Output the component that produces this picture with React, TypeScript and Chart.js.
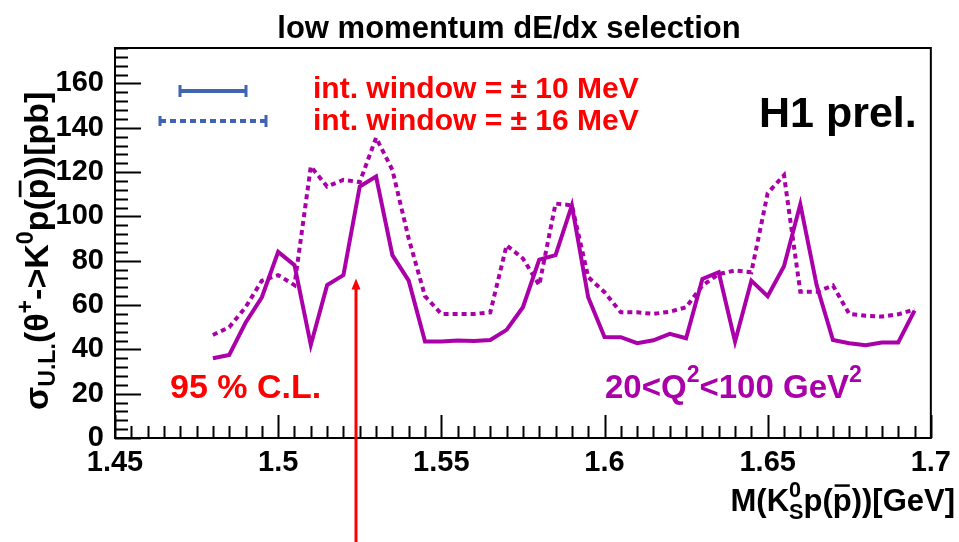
import React, { useEffect, useRef } from "react";
import { Chart, registerables } from "chart.js";

Chart.register(...registerables);

// Invariant mass bin centres [GeV]
const massBins = [
  1.48, 1.485, 1.49, 1.495, 1.5, 1.505, 1.51, 1.515, 1.52, 1.525, 1.53, 1.535,
  1.54, 1.545, 1.55, 1.555, 1.56, 1.565, 1.57, 1.575, 1.58, 1.585, 1.59, 1.595,
  1.6, 1.605, 1.61, 1.615, 1.62, 1.625, 1.63, 1.635, 1.64, 1.645, 1.65, 1.655,
  1.66, 1.665, 1.67, 1.675, 1.68, 1.685, 1.69, 1.695,
];

// 95% C.L. upper limit [pb], integration window +-10 MeV
const upperLimit10MeV = [
  36.0, 37.5, 52.0, 63.5, 84.0, 78.0, 42.0, 69.0, 73.5, 113.5, 118.0, 82.5,
  71.0, 43.5, 43.5, 44.0, 43.8, 44.2, 48.8, 59.0, 80.5, 82.5, 105.0, 63.5,
  45.6, 45.5, 42.8, 44.1, 47.0, 45.0, 71.8, 74.8, 43.5, 71.0, 64.0, 77.5,
  105.5, 69.0, 44.2, 42.8, 41.9, 43.1, 43.1, 57.5,
];

// 95% C.L. upper limit [pb], integration window +-16 MeV
const upperLimit16MeV = [
  46.5, 50.0, 59.0, 71.0, 73.5, 69.0, 122.5, 113.5, 116.5, 115.5, 135.5, 121.0,
  90.0, 64.0, 56.0, 56.0, 56.0, 56.7, 87.0, 81.0, 69.0, 105.8, 105.0, 72.6,
  65.8, 56.7, 56.7, 56.0, 57.0, 59.0, 68.8, 74.0, 75.6, 74.8, 110.5, 118.6,
  66.0, 66.0, 68.8, 56.0, 55.2, 54.8, 55.8, 58.0,
];

const xTickValues = [1.45, 1.5, 1.55, 1.6, 1.65, 1.7];
const xTickLabels = ["1.45", "1.5", "1.55", "1.6", "1.65", "1.7"];
const yTickValues = [0, 20, 40, 60, 80, 100, 120, 140, 160];
const yTickLabels = ["0", "20", "40", "60", "80", "100", "120", "140", "160"];

// Mass marked by the arrow [GeV] and the arrow tip [pb]
const markedMass = 1.524;
const markedTip = 72;

const X_MIN = 1.45;
const X_MAX = 1.7;
const Y_MIN = 0;
const Y_MAX = 176;

const MAGENTA = "#aa00aa";
const BLUE = "#4164b2";
const RED = "#ff0000";
const FAMILY = '"Liberation Sans", Arial, Helvetica, sans-serif';

type Seg = { t: string; s?: number; dy?: number; over?: boolean; stack?: boolean };

const font = (px: number) => `bold ${px}px ${FAMILY}`;

// Draws a run of text pieces with sub/superscripts and overlines.
function drawRich(
  ctx: CanvasRenderingContext2D,
  segs: Seg[],
  x: number,
  y: number,
  size: number,
  color: string,
  align: "left" | "right" | "center" = "left"
) {
  const widths = segs.map((sg) => {
    ctx.font = font(size * (sg.s ?? 1));
    return ctx.measureText(sg.t).width;
  });
  const xs: number[] = [];
  let cx = 0;
  let i = 0;
  while (i < segs.length) {
    if (segs[i].stack && i + 1 < segs.length) {
      xs[i] = cx;
      xs[i + 1] = cx;
      cx += Math.max(widths[i], widths[i + 1]);
      i += 2;
    } else {
      xs[i] = cx;
      cx += widths[i];
      i += 1;
    }
  }
  const x0 = align === "right" ? x - cx : align === "center" ? x - cx / 2 : x;
  ctx.fillStyle = color;
  ctx.textAlign = "left";
  ctx.textBaseline = "alphabetic";
  segs.forEach((sg, k) => {
    const px = size * (sg.s ?? 1);
    ctx.font = font(px);
    const yy = y + (sg.dy ?? 0) * size;
    ctx.fillText(sg.t, x0 + xs[k], yy);
    if (sg.over) {
      ctx.fillRect(x0 + xs[k] + widths[k] * 0.1, yy - px * 0.86, widths[k] * 0.8, Math.max(2, px * 0.08));
    }
  });
}

const framePlugin = {
  id: "rootFrame",
  afterDraw(chart: any) {
    const ctx: CanvasRenderingContext2D = chart.ctx;
    const { left, right, top, bottom } = chart.chartArea;
    const xs = chart.scales.x;
    const ys = chart.scales.y;
    ctx.save();

    // frame
    ctx.strokeStyle = "#000";
    ctx.lineWidth = 2;
    ctx.strokeRect(left, top, right - left, bottom - top);

    // inward ticks on the x axis: major every 0.05, minor every 0.005
    ctx.beginPath();
    for (let k = 0; k <= 50; k++) {
      const v = X_MIN + k * 0.005;
      const px = Math.round(xs.getPixelForValue(v)) + 0.5;
      const len = k % 10 === 0 ? 23 : 12;
      ctx.moveTo(px, bottom);
      ctx.lineTo(px, bottom - len);
    }
    // inward ticks on the y axis: major every 20, minor every 4
    for (let k = 0; k * 4 <= Y_MAX; k++) {
      const v = k * 4;
      const py = Math.round(ys.getPixelForValue(v)) + 0.5;
      const len = k % 5 === 0 ? 26 : 13;
      ctx.moveTo(left, py);
      ctx.lineTo(left + len, py);
    }
    ctx.lineWidth = 2;
    ctx.stroke();

    // title
    ctx.fillStyle = "#000";
    ctx.font = font(31);
    ctx.textAlign = "center";
    ctx.textBaseline = "alphabetic";
    ctx.fillText("low momentum dE/dx selection", 509, 38);

    // y axis title (rotated)
    ctx.save();
    ctx.translate(48, 410);
    ctx.rotate(-Math.PI / 2);
    drawRich(
      ctx,
      [
        { t: "σ" },
        { t: "U.L.", s: 0.68, dy: 0.22 },
        { t: "(θ" },
        { t: "+", s: 0.68, dy: -0.45 },
        { t: "->K" },
        { t: "0", s: 0.68, dy: -0.45 },
        { t: "p(" },
        { t: "p", over: true },
        { t: "))[pb]" },
      ],
      0,
      0,
      34,
      "#000",
      "left"
    );
    ctx.restore();

    // x axis title
    drawRich(
      ctx,
      [
        { t: "M(K" },
        { t: "0", s: 0.7, dy: -0.45, stack: true },
        { t: "S", s: 0.7, dy: 0.25 },
        { t: "p(" },
        { t: "p", over: true },
        { t: "))[GeV]" },
      ],
      955,
      511,
      31,
      "#000",
      "right"
    );

    // legend markers
    ctx.strokeStyle = BLUE;
    ctx.lineWidth = 4;
    ctx.setLineDash([]);
    ctx.beginPath();
    ctx.moveTo(180, 91);
    ctx.lineTo(246, 91);
    ctx.stroke();
    ctx.lineWidth = 3;
    ctx.beginPath();
    ctx.moveTo(180, 85);
    ctx.lineTo(180, 97);
    ctx.moveTo(246, 85);
    ctx.lineTo(246, 97);
    ctx.stroke();

    ctx.lineWidth = 4;
    ctx.beginPath();
    ctx.setLineDash([6, 4]);
    ctx.moveTo(160, 121);
    ctx.lineTo(266, 121);
    ctx.stroke();
    ctx.setLineDash([]);
    ctx.lineWidth = 3;
    ctx.beginPath();
    ctx.moveTo(160, 116);
    ctx.lineTo(160, 126);
    ctx.moveTo(266, 115);
    ctx.lineTo(266, 127);
    ctx.stroke();

    // legend texts
    ctx.fillStyle = RED;
    ctx.font = font(30);
    ctx.textAlign = "left";
    ctx.fillText("int. window = \u00b1 10 MeV", 313, 98);
    ctx.fillText("int. window = \u00b1 16 MeV", 313, 130);

    // labels
    ctx.fillStyle = "#000";
    ctx.font = font(43);
    ctx.fillText("H1 prel.", 759, 127);

    ctx.fillStyle = RED;
    ctx.font = font(34);
    ctx.fillText("95 % C.L.", 170, 398);

    drawRich(
      ctx,
      [
        { t: "20<Q" },
        { t: "2", s: 0.7, dy: -0.48 },
        { t: "<100 GeV" },
        { t: "2", s: 0.7, dy: -0.48 },
      ],
      605,
      398,
      33,
      MAGENTA,
      "left"
    );

    // arrow at the marked mass
    const ax = Math.round(xs.getPixelForValue(markedMass));
    const ay = ys.getPixelForValue(markedTip);
    ctx.strokeStyle = RED;
    ctx.fillStyle = RED;
    ctx.lineWidth = 3;
    ctx.beginPath();
    ctx.moveTo(ax, ay + 8);
    ctx.lineTo(ax, chart.height);
    ctx.stroke();
    ctx.beginPath();
    ctx.moveTo(ax, ay);
    ctx.lineTo(ax - 4.5, ay + 11);
    ctx.lineTo(ax + 4.5, ay + 11);
    ctx.closePath();
    ctx.fill();

    ctx.restore();
  },
};

export default function App() {
  const canvasRef = useRef<HTMLCanvasElement | null>(null);

  useEffect(() => {
    const canvas = canvasRef.current;
    if (!canvas) return;
    Chart.defaults.font.family = FAMILY;

    const chart = new Chart(canvas, {
      type: "line",
      data: {
        datasets: [
          {
            label: "int. window = \u00b1 10 MeV",
            data: massBins.map((m, i) => ({ x: m, y: upperLimit10MeV[i] })),
            borderColor: MAGENTA,
            borderWidth: 4,
            pointRadius: 0,
            tension: 0,
            fill: false,
          },
          {
            label: "int. window = \u00b1 16 MeV",
            data: massBins.map((m, i) => ({ x: m, y: upperLimit16MeV[i] })),
            borderColor: MAGENTA,
            borderWidth: 4,
            borderDash: [5, 4],
            pointRadius: 0,
            tension: 0,
            fill: false,
          },
        ],
      },
      options: {
        responsive: false,
        animation: false,
        layout: { padding: { top: 48, right: 26, left: 0, bottom: 0 } },
        plugins: {
          legend: { display: false },
          tooltip: { enabled: false },
          title: { display: false },
        },
        scales: {
          x: {
            type: "linear",
            min: X_MIN,
            max: X_MAX,
            afterBuildTicks: (s: any) => {
              s.ticks = xTickValues.map((v) => ({ value: v }));
            },
            afterFit: (s: any) => {
              s.height = 104;
            },
            ticks: {
              autoSkip: false,
              maxRotation: 0,
              padding: 8,
              color: "#000",
              font: { size: 29, weight: "bold", family: FAMILY },
              callback: (_v: any, i: number) => xTickLabels[i],
            },
            grid: { display: false, drawTicks: false },
            border: { display: false },
          },
          y: {
            type: "linear",
            min: Y_MIN,
            max: Y_MAX,
            afterBuildTicks: (s: any) => {
              s.ticks = yTickValues.map((v) => ({ value: v }));
            },
            afterFit: (s: any) => {
              s.width = 115;
            },
            ticks: {
              autoSkip: false,
              padding: 11,
              color: "#000",
              font: { size: 29, weight: "bold", family: FAMILY },
              callback: (_v: any, i: number) => yTickLabels[i],
            },
            grid: { display: false, drawTicks: false },
            border: { display: false },
          },
        },
      },
      plugins: [framePlugin],
    } as any);

    return () => chart.destroy();
  }, []);

  return (
    <div style={{ position: "absolute", left: 0, top: 0, width: 959, height: 542, background: "#fff" }}>
      <canvas ref={canvasRef} width={959} height={542} style={{ display: "block" }} />
    </div>
  );
}
